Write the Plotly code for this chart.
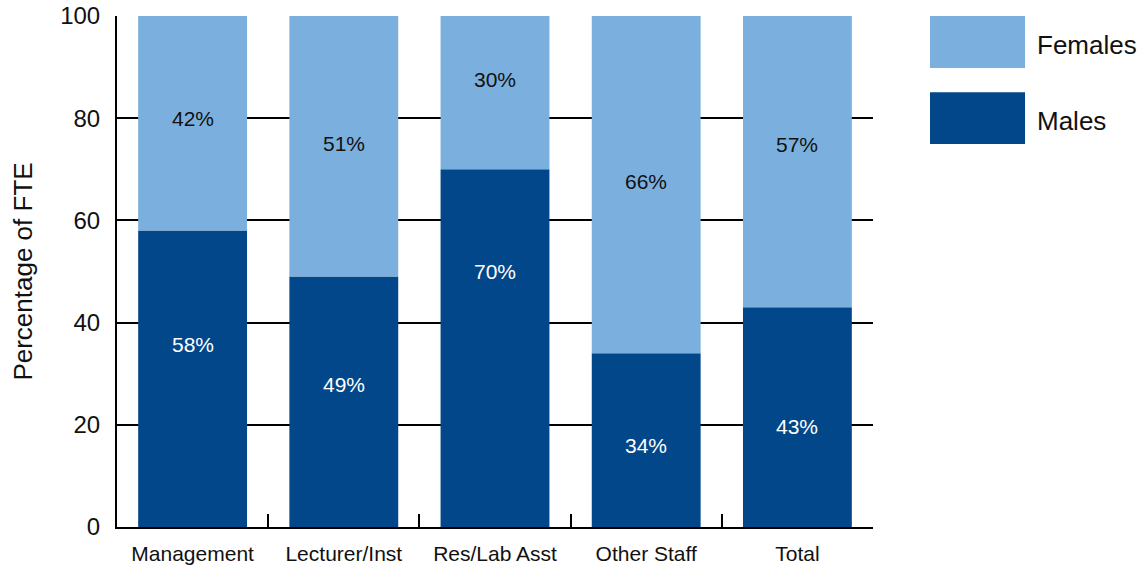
import plotly.graph_objects as go

# Staff groups and their gender split (percentage of FTE)
categories = ["Management", "Lecturer/Inst", "Res/Lab Asst", "Other Staff", "Total"]
males = [58, 49, 70, 34, 43]
females = [42, 51, 30, 66, 57]

# Vertical placement of the in-bar percentage labels (data units)
male_label_y = [35.8, 27.8, 50.0, 16.0, 19.6]
female_label_y = [80.0, 75.1, 87.5, 67.6, 74.8]

MALE_COLOR = "#02478A"
FEMALE_COLOR = "#7BB0DE"
FONT = "Liberation Sans, Arial, Helvetica, sans-serif"

fig = go.Figure()
fig.add_trace(go.Bar(x=categories, y=males, name="Males",
                     marker=dict(color=MALE_COLOR, line=dict(width=0)),
                     showlegend=False, hoverinfo="skip"))
fig.add_trace(go.Bar(x=categories, y=females, name="Females", base=males,
                     marker=dict(color=FEMALE_COLOR, line=dict(width=0)),
                     showlegend=False, hoverinfo="skip"))

annotations = []
for cat, m, f, my, fy in zip(categories, males, females, male_label_y, female_label_y):
    annotations.append(dict(x=cat, y=my, xref="x", yref="y", text=f"{m}%",
                            showarrow=False, font=dict(family=FONT, size=21, color="white")))
    annotations.append(dict(x=cat, y=fy, xref="x", yref="y", text=f"{f}%",
                            showarrow=False, font=dict(family=FONT, size=21, color="#111111")))

# Custom legend: large swatches with labels to the right of the plot
legend_items = [("Females", FEMALE_COLOR, 1.0, 0.898), ("Males", MALE_COLOR, 0.851, 0.7495)]
shapes = []
for label, color, top, bottom in legend_items:
    shapes.append(dict(type="rect", xref="paper", yref="paper",
                       x0=1.0754, x1=1.2011, y0=bottom, y1=top,
                       fillcolor=color, line=dict(width=0)))
    annotations.append(dict(x=1.214, y=(top + bottom) / 2, xref="paper", yref="paper",
                            text=label, showarrow=False, xanchor="left", yanchor="middle",
                            yshift=-3, font=dict(family=FONT, size=26, color="#111111")))

fig.update_layout(
    width=1145, height=567,
    margin=dict(l=117, r=272, t=16, b=40, autoexpand=False),
    paper_bgcolor="white", plot_bgcolor="white",
    barmode="overlay", bargap=0.28,
    font=dict(family=FONT, color="#111111"),
    shapes=shapes, annotations=annotations,
)
fig.update_xaxes(
    automargin=False,
    showline=True, linecolor="black", linewidth=2,
    ticks="inside", tickson="boundaries", ticklen=13, tickwidth=2, tickcolor="black",
    tickfont=dict(family=FONT, size=21, color="#111111"),
    ticklabelstandoff=7,
    showgrid=False,
)
fig.update_yaxes(
    automargin=False,
    range=[0, 100], dtick=20, tick0=0,
    showline=True, linecolor="black", linewidth=2,
    showgrid=True, gridcolor="black", gridwidth=2,
    zeroline=False, ticks="", ticklabelstandoff=10,
    tickfont=dict(family=FONT, size=24, color="#111111"),
    title=dict(text="Percentage of FTE", font=dict(family=FONT, size=26, color="#111111"), standoff=20),
)

fig.write_html("out.html")
